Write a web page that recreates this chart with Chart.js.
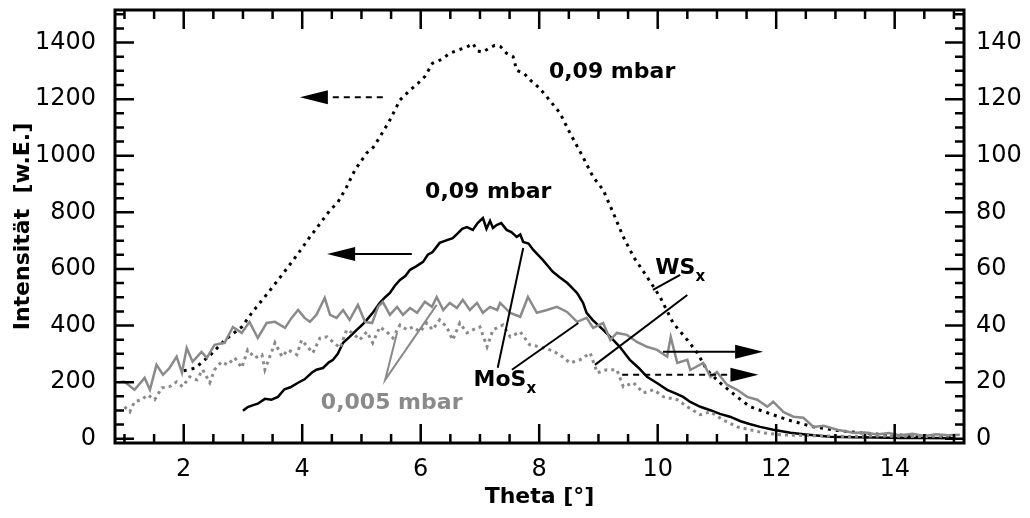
<!DOCTYPE html>
<html>
<head>
<meta charset="utf-8">
<script src="https://cdn.jsdelivr.net/npm/chart.js@4/dist/chart.umd.min.js"></script>
<style>
  body { margin: 0; background: #fff; }
  canvas { display: block; }
</style>
</head>
<body>
<canvas id="thetaChart" width="1030" height="518"></canvas>
<script>
// tick labels
const thetaTicks = [2, 4, 6, 8, 10, 12, 14];
const leftTicks = [0, 200, 400, 600, 800, 1000, 1200, 1400];
const rightTicks = [0, 20, 40, 60, 80, 100, 120, 140];

// 0,09 mbar, dotted black (left axis)
const dot09Theta = [2.0, 2.2, 2.47, 2.7, 2.98, 3.15, 3.42, 3.7, 3.95, 4.13, 4.3, 4.47, 4.6, 4.75, 4.89, 5.09, 5.2, 5.31, 5.48, 5.65, 5.82, 5.95, 6.07, 6.2, 6.35, 6.49, 6.65, 6.78, 6.88, 6.96, 7.05, 7.15, 7.25, 7.35, 7.45, 7.56, 7.62, 7.75, 7.85, 8.0, 8.13, 8.35, 8.52, 8.74, 8.91, 9.08, 9.25, 9.42, 9.6, 9.82, 10.04, 10.26, 10.5, 10.67, 10.83, 11.05, 11.34, 11.56, 11.85, 12.19, 12.63, 13.0, 13.42, 13.8, 14.2, 14.6, 15.0];
const dot09Int = [240, 250, 300, 350, 395, 445, 515, 590, 660, 713, 760, 808, 835, 890, 950, 1010, 1030, 1066, 1126, 1197, 1232, 1255, 1280, 1327, 1340, 1362, 1375, 1384, 1397, 1370, 1366, 1380, 1390, 1385, 1362, 1350, 1302, 1290, 1267, 1240, 1208, 1151, 1080, 995, 925, 879, 798, 713, 640, 572, 501, 409, 349, 303, 243, 198, 148, 113, 92, 67, 42, 30, 21, 15, 12, 10, 10];

// 0,09 mbar, solid black (left axis)
const sol09Theta = [3.0, 3.08, 3.16, 3.25, 3.37, 3.48, 3.59, 3.7, 3.8, 3.93, 4.04, 4.16, 4.24, 4.35, 4.45, 4.52, 4.6, 4.69, 4.8, 4.92, 5.0, 5.09, 5.2, 5.31, 5.4, 5.48, 5.56, 5.65, 5.74, 5.82, 5.93, 6.04, 6.12, 6.2, 6.32, 6.42, 6.54, 6.62, 6.7, 6.78, 6.88, 6.96, 7.05, 7.11, 7.17, 7.22, 7.28, 7.36, 7.45, 7.53, 7.62, 7.68, 7.73, 7.82, 7.9, 7.98, 8.06, 8.14, 8.23, 8.35, 8.47, 8.56, 8.64, 8.74, 8.8, 8.9, 9.08, 9.2, 9.36, 9.45, 9.53, 9.68, 9.82, 10.0, 10.16, 10.3, 10.43, 10.55, 10.72, 10.9, 11.05, 11.22, 11.4, 11.55, 11.73, 11.95, 12.24, 12.5, 12.91, 13.3, 13.7, 14.1, 14.5, 15.0];
const sol09Int = [99, 112, 118, 124, 141, 138, 148, 175, 182, 198, 210, 233, 244, 250, 270, 279, 300, 339, 360, 385, 400, 420, 448, 480, 500, 515, 540, 561, 575, 597, 610, 625, 650, 660, 692, 700, 709, 725, 742, 748, 738, 762, 780, 742, 770, 745, 755, 762, 738, 730, 713, 722, 695, 690, 667, 650, 632, 612, 590, 570, 551, 532, 515, 480, 445, 420, 385, 360, 325, 300, 279, 250, 219, 195, 173, 160, 148, 130, 113, 100, 88, 78, 62, 52, 42, 32, 21, 15, 7, 5, 4, 3, 3, 2];

// 0,005 mbar, solid grey (right axis)
const sol005Theta = [0.9, 1.0, 1.17, 1.34, 1.43, 1.54, 1.65, 1.76, 1.88, 1.97, 2.05, 2.15, 2.3, 2.39, 2.52, 2.69, 2.83, 2.98, 3.11, 3.25, 3.4, 3.54, 3.71, 3.82, 3.93, 4.04, 4.13, 4.24, 4.38, 4.47, 4.58, 4.69, 4.8, 4.94, 5.06, 5.18, 5.28, 5.36, 5.48, 5.6, 5.7, 5.82, 5.94, 6.07, 6.19, 6.27, 6.38, 6.49, 6.61, 6.71, 6.83, 6.95, 7.05, 7.17, 7.29, 7.34, 7.51, 7.68, 7.81, 7.96, 8.13, 8.3, 8.47, 8.64, 8.8, 8.91, 9.08, 9.2, 9.31, 9.48, 9.65, 9.82, 9.99, 10.16, 10.22, 10.33, 10.5, 10.55, 10.77, 10.89, 11.0, 11.17, 11.34, 11.51, 11.68, 11.85, 11.95, 12.12, 12.29, 12.46, 12.63, 12.8, 13.03, 13.3, 13.5, 13.7, 13.9, 14.1, 14.3, 14.5, 14.7, 14.9, 15.1];
const sol005Int = [20.0, 20.1, 17.3, 21.5, 17.3, 26.1, 22.6, 25.0, 29.0, 23.3, 32.1, 27.2, 30.7, 28.6, 33.2, 33.9, 39.5, 37.4, 41.3, 35.6, 40.9, 41.3, 39.2, 42.7, 45.5, 42.7, 41.3, 43.8, 49.8, 43.8, 42.7, 45.5, 42.0, 47.3, 41.3, 40.9, 46.6, 48.4, 43.8, 46.6, 43.8, 46.2, 44.5, 48.4, 46.6, 50.1, 45.5, 48.0, 46.2, 49.1, 45.5, 48.0, 44.5, 46.6, 45.5, 48.0, 44.5, 43.1, 50.1, 44.5, 45.5, 46.6, 44.8, 41.3, 42.7, 39.2, 40.9, 34.9, 37.4, 36.7, 34.2, 32.5, 31.4, 29.0, 36.0, 26.8, 27.9, 24.3, 26.8, 21.9, 23.6, 19.1, 17.3, 14.8, 13.8, 11.3, 13.1, 9.5, 7.8, 7.4, 4.2, 4.6, 3.2, 2.1, 2.2, 1.5, 2.0, 1.2, 1.8, 1.0, 1.6, 1.2, 1.4];

// 0,005 mbar, dotted grey (right axis)
const dot005Theta = [1.0, 1.09, 1.17, 1.29, 1.39, 1.51, 1.63, 1.76, 1.88, 1.98, 2.1, 2.22, 2.32, 2.44, 2.52, 2.64, 2.74, 2.86, 2.98, 3.08, 3.2, 3.32, 3.37, 3.54, 3.66, 3.76, 3.91, 3.99, 4.18, 4.3, 4.42, 4.52, 4.64, 4.75, 4.85, 4.97, 5.09, 5.19, 5.31, 5.43, 5.53, 5.65, 5.77, 5.87, 5.99, 6.1, 6.2, 6.32, 6.44, 6.54, 6.66, 6.78, 6.88, 7.0, 7.12, 7.22, 7.39, 7.51, 7.68, 7.84, 8.01, 8.18, 8.35, 8.52, 8.69, 8.86, 8.98, 9.14, 9.31, 9.42, 9.59, 9.76, 9.93, 10.1, 10.33, 10.5, 10.72, 10.89, 11.1, 11.34, 11.56, 11.78, 12.07, 12.4, 12.8, 13.2, 13.6, 14.0, 14.4, 14.8, 15.1];
const dot005Int = [11.3, 9.5, 13.1, 13.8, 15.5, 13.8, 18.0, 18.4, 20.1, 18.4, 21.9, 20.8, 24.4, 19.8, 24.4, 27.2, 26.1, 28.6, 25.1, 31.4, 28.6, 29.7, 24.4, 33.9, 29.0, 31.4, 29.7, 34.9, 30.3, 35.6, 36.0, 34.2, 32.1, 38.5, 37.4, 34.9, 37.8, 33.9, 39.5, 37.8, 35.6, 40.2, 38.5, 39.5, 37.8, 40.9, 38.5, 42.0, 39.5, 34.9, 40.9, 37.4, 38.5, 39.5, 32.5, 38.5, 40.2, 36.0, 37.8, 33.2, 32.5, 31.4, 29.7, 26.8, 27.9, 30.3, 23.3, 24.4, 24.4, 18.4, 19.8, 16.2, 17.3, 14.8, 13.8, 11.3, 8.5, 9.5, 6.7, 4.2, 3.2, 2.1, 1.4, 1.2, 1.0, 0.8, 1.0, 0.9, 0.8, 0.9, 0.8];

const GREY = "#8a8a8a";
const FONT = "'DejaVu Sans', 'Liberation Sans', Arial, sans-serif";

const toPoints = (xs, ys) => xs.map((x, i) => ({ x: x, y: ys[i] }));

// annotations in data units (left axis units)
const arrows = [
    { x1: 5.36, x2: 3.96, y: 1207, dash: [6, 5] },
    { x1: 5.85, x2: 4.42, y: 653, dash: [] },
    { x1: 10.09, x2: 11.78, y: 307, dash: [] },
    { x1: 9.4, x2: 11.7, y: 226, dash: [6, 5] }
];
const pointerLines = [
    { color: "#000", pts: [[7.30, 251], [7.73, 674]] },
    { color: "#000", pts: [[7.54, 244], [8.66, 409]] },
    { color: "#000", pts: [[8.94, 261], [10.5, 508]] },
    { color: "#000", pts: [[9.92, 526], [10.38, 579]] },
    { color: GREY, pts: [[5.60, 374], [5.40, 208], [6.27, 473]] }
];
const labels = [
    { text: "0,09 mbar", x: 9.23, y: 1295, color: "#000" },
    { text: "0,09 mbar", x: 7.14, y: 872, color: "#000" },
    { text: "0,005 mbar", x: 5.51, y: 127, color: GREY },
    { text: "MoS", sub: "x", x: 7.42, y: 208, color: "#000" },
    { text: "WS", sub: "x", x: 10.38, y: 604, color: "#000" }
];

const framePlugin = {
    id: "frame",
    afterDatasetsDraw(chart) {
        const { ctx, chartArea: a, scales } = chart;
        const sx = scales.x, sy = scales.y;
        const px = v => sx.getPixelForValue(v);
        const py = v => sy.getPixelForValue(v);
        ctx.save();
        ctx.strokeStyle = "#000";
        ctx.fillStyle = "#000";

        // inward ticks on all four sides
        ctx.lineWidth = 2.5;
        ctx.beginPath();
        for (let v = 1; v <= 15.001; v += 0.5) {
            const len = Math.abs(v % 2) < 1e-6 ? 19 : 9;
            const x = px(v);
            ctx.moveTo(x, a.bottom); ctx.lineTo(x, a.bottom - len);
            ctx.moveTo(x, a.top); ctx.lineTo(x, a.top + len);
        }
        for (let v = 0; v <= 1500; v += 50) {
            const len = v % 200 === 0 ? 19 : 9;
            const y = py(v);
            ctx.moveTo(a.left, y); ctx.lineTo(a.left + len, y);
            ctx.moveTo(a.right, y); ctx.lineTo(a.right - len, y);
        }
        ctx.stroke();

        ctx.lineWidth = 3;
        ctx.strokeRect(a.left, a.top, a.right - a.left, a.bottom - a.top);

        // pointer lines
        ctx.lineWidth = 2;
        pointerLines.forEach(l => {
            ctx.strokeStyle = l.color;
            ctx.beginPath();
            l.pts.forEach((p, i) => i ? ctx.lineTo(px(p[0]), py(p[1])) : ctx.moveTo(px(p[0]), py(p[1])));
            ctx.stroke();
        });

        // arrows
        ctx.strokeStyle = "#000";
        arrows.forEach(ar => {
            const x1 = px(ar.x1), x2 = px(ar.x2), y = py(ar.y);
            const dir = x2 > x1 ? 1 : -1;
            const head = 28;
            ctx.lineWidth = 2;
            ctx.setLineDash(ar.dash);
            ctx.beginPath();
            ctx.moveTo(x1, y);
            ctx.lineTo(x2 - dir * head, y);
            ctx.stroke();
            ctx.setLineDash([]);
            ctx.beginPath();
            ctx.moveTo(x2, y);
            ctx.lineTo(x2 - dir * head, y - 7);
            ctx.lineTo(x2 - dir * head, y + 7);
            ctx.closePath();
            ctx.fill();
        });

        // text labels
        ctx.textBaseline = "middle";
        labels.forEach(lb => {
            ctx.fillStyle = lb.color;
            ctx.font = "bold 22px " + FONT;
            const w = ctx.measureText(lb.text).width;
            let sw = 0;
            if (lb.sub) {
                ctx.font = "bold 15px " + FONT;
                sw = ctx.measureText(lb.sub).width;
            }
            const x0 = px(lb.x) - (w + sw) / 2;
            const y0 = py(lb.y);
            ctx.font = "bold 22px " + FONT;
            ctx.textAlign = "left";
            ctx.fillText(lb.text, x0, y0);
            if (lb.sub) {
                ctx.font = "bold 15px " + FONT;
                ctx.fillText(lb.sub, x0 + w, y0 + 9);
            }
        });
        ctx.restore();
    }
};

const plain = v => String(v);

new Chart(document.getElementById("thetaChart").getContext("2d"), {
    type: "line",
    data: {
        datasets: [
            {
                label: "0,005 mbar dotted",
                data: toPoints(dot005Theta, dot005Int),
                yAxisID: "y2",
                borderColor: GREY,
                borderWidth: 3,
                borderDash: [3, 4]
            },
            {
                label: "0,005 mbar",
                data: toPoints(sol005Theta, sol005Int),
                yAxisID: "y2",
                borderColor: GREY,
                borderWidth: 2.5
            },
            {
                label: "0,09 mbar dotted",
                data: toPoints(dot09Theta, dot09Int),
                yAxisID: "y",
                borderColor: "#000",
                borderWidth: 3,
                borderDash: [3, 5]
            },
            {
                label: "0,09 mbar",
                data: toPoints(sol09Theta, sol09Int),
                yAxisID: "y",
                borderColor: "#000",
                borderWidth: 2.5
            }
        ]
    },
    options: {
        responsive: false,
        animation: false,
        layout: { padding: { top: 10, left: 0, right: 0, bottom: 0 } },
        elements: { point: { radius: 0 }, line: { tension: 0, fill: false } },
        plugins: { legend: { display: false }, tooltip: { enabled: false } },
        scales: {
            x: {
                type: "linear",
                min: 0.84,
                max: 15.17,
                grid: { display: false, drawTicks: false },
                border: { display: false },
                afterBuildTicks: s => { s.ticks = thetaTicks.map(v => ({ value: v })); },
                afterFit: s => { s.height = 75; s.paddingLeft = 0; s.paddingRight = 0; },
                ticks: { color: "#000", padding: 12, callback: plain, font: { family: FONT, size: 24 } },
                title: {
                    display: true,
                    text: "Theta [°]",
                    color: "#000",
                    padding: { top: 0, bottom: 8 },
                    font: { family: FONT, size: 22, weight: "bold" }
                }
            },
            y: {
                position: "left",
                min: -15,
                max: 1515,
                grid: { display: false, drawTicks: false },
                border: { display: false },
                afterBuildTicks: s => { s.ticks = leftTicks.map(v => ({ value: v })); },
                afterFit: s => { s.width = 115; s.paddingTop = 0; s.paddingBottom = 0; },
                ticks: { color: "#000", padding: 19, callback: plain, font: { family: FONT, size: 24 } },
                title: {
                    display: true,
                    text: "Intensität  [w.E.]",
                    color: "#000",
                    padding: { top: 10, bottom: 0 },
                    font: { family: FONT, size: 22, weight: "bold" }
                }
            },
            y2: {
                position: "right",
                min: -1.5,
                max: 151.5,
                grid: { display: false, drawTicks: false },
                border: { display: false },
                afterBuildTicks: s => { s.ticks = rightTicks.map(v => ({ value: v })); },
                afterFit: s => { s.width = 66; s.paddingTop = 0; s.paddingBottom = 0; },
                ticks: { color: "#000", padding: 12, callback: plain, font: { family: FONT, size: 24 } }
            }
        }
    },
    plugins: [framePlugin]
});
</script>
</body>
</html>
